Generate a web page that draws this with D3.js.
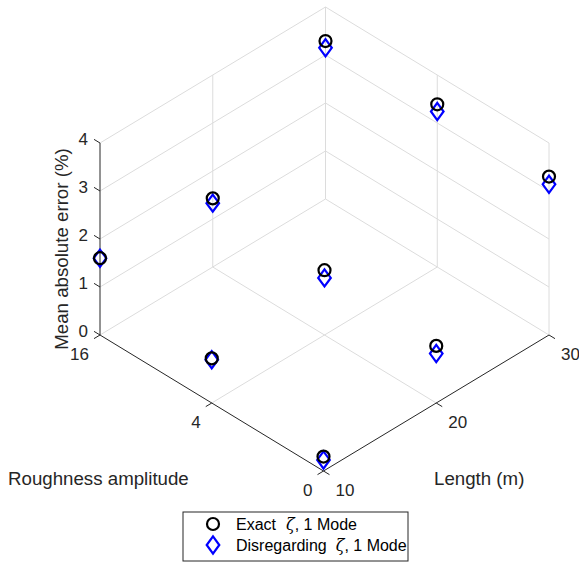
<!DOCTYPE html>
<meta charset="utf-8">
<style>
body {
  margin: 0;
  background: #fff;
  font-family: "Liberation Sans", Arial, Helvetica, sans-serif;
}
.grid {
  stroke: #dcdcdc;
  stroke-width: 1;
  fill: none;
}
.axis-line, .tick {
  stroke: #262626;
  stroke-width: 1;
  fill: none;
}
.tick-label {
  fill: #262626;
  font-size: 17px;
}
.axis-title {
  fill: #262626;
  font-size: 18.7px;
}
.exact {
  fill: none;
  stroke: #000;
  stroke-width: 2.2;
}
.disreg {
  fill: none;
  stroke: #0000ff;
  stroke-width: 2.2;
}
.legend-box {
  fill: #fff;
  stroke: #262626;
  stroke-width: 1;
}
.legend-text {
  fill: #000;
  font-size: 16px;
}
</style>
<body>
<script src="https://cdnjs.cloudflare.com/ajax/libs/d3/7.8.5/d3.min.js"></script>
<script>

var width = 579,
    height = 567;

// categories / ticks
var roughLabels = ["0", "4", "16"];
var lengths = [10, 20, 30];
var zTicks = [0, 1, 2, 3, 4];

// Exact zeta, 1 mode : one array per roughness amplitude, values over lengths
var exactR0 = [0.30, 1.19, 3.30];
var exactR4 = [0.93, 1.35, 3.39];
var exactR16 = [1.60, 1.43, 3.29];

// Disregarding zeta, 1 mode
var disregR0 = [0.23, 1.03, 3.14];
var disregR4 = [0.90, 1.19, 3.24];
var disregR16 = [1.60, 1.33, 3.15];

var legendLabels = ["Exact", "Disregarding"];

// scales (unit cube) and the screen vectors of the view
var rScale = d3.scalePoint().domain(roughLabels).range([0, 1]);
var lScale = d3.scaleLinear().domain([10, 30]).range([0, 1]);
var zScale = d3.scaleLinear().domain([0, 4]).range([0, 1]);

var origin = [323.5, 471],
    rVec = [-223.5, -136],
    lVec = [225.5, -136],
    zLen = 192;

function project(r, l, z) {
  var u = rScale(r), v = lScale(l), w = zScale(z);
  return [origin[0] + u * rVec[0] + v * lVec[0],
          origin[1] + u * rVec[1] + v * lVec[1] - w * zLen];
}

function unit(v) {
  var n = Math.sqrt(v[0] * v[0] + v[1] * v[1]);
  return [v[0] / n, v[1] / n];
}

var svg = d3.select("body").append("svg")
    .attr("width", width)
    .attr("height", height);

var line = d3.line();
var rMax = "16", lMax = 30, zMax = 4;

// grid segments
var gridSegs = [];
// floor
roughLabels.slice(1).forEach(function(r) { gridSegs.push([[r, 10, 0], [r, lMax, 0]]); });
lengths.slice(1).forEach(function(l) { gridSegs.push([["0", l, 0], [rMax, l, 0]]); });
// back-left wall (roughness = 16)
lengths.slice(1).forEach(function(l) { gridSegs.push([[rMax, l, 0], [rMax, l, zMax]]); });
zTicks.slice(1).forEach(function(z) { gridSegs.push([[rMax, 10, z], [rMax, lMax, z]]); });
// back-right wall (length = 30)
roughLabels.slice(0, 2).forEach(function(r) { gridSegs.push([[r, lMax, 0], [r, lMax, zMax]]); });
zTicks.slice(1).forEach(function(z) { gridSegs.push([["0", lMax, z], [rMax, lMax, z]]); });

svg.append("g").selectAll("path")
    .data(gridSegs)
  .enter().append("path")
    .attr("class", "grid")
    .attr("d", function(d) { return line(d.map(function(p) { return project(p[0], p[1], p[2]); })); });

// axis lines
var axisSegs = [
  [["0", 10, 0], [rMax, 10, 0]],
  [["0", 10, 0], ["0", lMax, 0]],
  [[rMax, 10, 0], [rMax, 10, zMax]]
];
svg.append("g").selectAll("path")
    .data(axisSegs)
  .enter().append("path")
    .attr("class", "axis-line")
    .attr("d", function(d) { return line(d.map(function(p) { return project(p[0], p[1], p[2]); })); });

var tickLen = 7;
var dirR = unit(rVec), dirL = unit(lVec);

// roughness ticks (pointing along -length)
var gT = svg.append("g");
roughLabels.forEach(function(r) {
  var p = project(r, 10, 0);
  gT.append("path").attr("class", "tick")
    .attr("d", line([p, [p[0] - dirL[0] * tickLen, p[1] - dirL[1] * tickLen]]));
  gT.append("text").attr("class", "tick-label")
    .attr("x", p[0] - 11).attr("y", p[1] + 25)
    .attr("text-anchor", "end")
    .text(r);
});

// length ticks (pointing along -roughness)
lengths.forEach(function(l) {
  var p = project("0", l, 0);
  gT.append("path").attr("class", "tick")
    .attr("d", line([p, [p[0] - dirR[0] * tickLen, p[1] - dirR[1] * tickLen]]));
  gT.append("text").attr("class", "tick-label")
    .attr("x", p[0] + 12).attr("y", p[1] + 25)
    .attr("text-anchor", "start")
    .text(l);
});

// z ticks (pointing along +roughness)
zTicks.forEach(function(z) {
  var p = project(rMax, 10, z);
  gT.append("path").attr("class", "tick")
    .attr("d", line([p, [p[0] + dirR[0] * tickLen, p[1] + dirR[1] * tickLen]]));
  gT.append("text").attr("class", "tick-label")
    .attr("x", p[0] - 12).attr("y", p[1] + 2)
    .attr("text-anchor", "end")
    .text(z);
});

// axis titles
svg.append("text").attr("class", "axis-title")
    .attr("x", 8).attr("y", 485)
    .text("Roughness amplitude");
svg.append("text").attr("class", "axis-title")
    .attr("x", 434).attr("y", 485)
    .text("Length (m)");
svg.append("text").attr("class", "axis-title")
    .attr("transform", "translate(68,249) rotate(-90)")
    .attr("text-anchor", "middle")
    .text("Mean absolute error (%)");

// build point tables
function toPoints(rows) {
  var pts = [];
  rows.forEach(function(vals, i) {
    vals.forEach(function(v, j) {
      pts.push({ r: roughLabels[i], l: lengths[j], z: v });
    });
  });
  return pts;
}
var exactPts = toPoints([exactR0, exactR4, exactR16]);
var disregPts = toPoints([disregR0, disregR4, disregR16]);

var dW = 6.3, dH = 8.6, cR = 6;
function diamond(x, y) {
  return "M" + x + "," + (y - dH) + "L" + (x + dW) + "," + y + "L" + x + "," + (y + dH) + "L" + (x - dW) + "," + y + "Z";
}

svg.append("g").selectAll("path")
    .data(disregPts)
  .enter().append("path")
    .attr("class", "disreg")
    .attr("d", function(d) { var p = project(d.r, d.l, d.z); return diamond(p[0], p[1]); });

svg.append("g").selectAll("circle")
    .data(exactPts)
  .enter().append("circle")
    .attr("class", "exact")
    .attr("r", cR)
    .attr("cx", function(d) { return project(d.r, d.l, d.z)[0]; })
    .attr("cy", function(d) { return project(d.r, d.l, d.z)[1]; });

// legend
var lg = svg.append("g").attr("transform", "translate(183,512)");
lg.append("rect").attr("class", "legend-box")
    .attr("width", 225).attr("height", 49);
lg.append("circle").attr("class", "exact").attr("r", cR).attr("cx", 30).attr("cy", 12);
lg.append("path").attr("class", "disreg").attr("d", diamond(30, 33));

var t1 = lg.append("text").attr("class", "legend-text").attr("x", 53).attr("y", 18);
t1.append("tspan").text(legendLabels[0]);
t1.append("tspan").attr("dx", 10).attr("font-family", "DejaVu Serif").attr("font-style", "italic").text("ζ");
t1.append("tspan").text(", 1 Mode");

var t2 = lg.append("text").attr("class", "legend-text").attr("x", 53).attr("y", 39);
t2.append("tspan").text(legendLabels[1]);
t2.append("tspan").attr("dx", 9).attr("font-family", "DejaVu Serif").attr("font-style", "italic").text("ζ");
t2.append("tspan").text(", 1 Mode");

</script>
</body>
